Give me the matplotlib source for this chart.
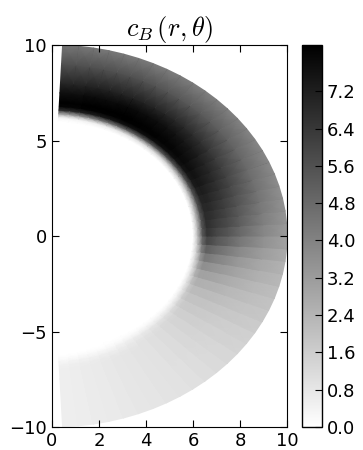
import numpy as np
import matplotlib
matplotlib.use("Agg")
import matplotlib.pyplot as plt

plt.rcParams["mathtext.fontset"] = "cm"
plt.rcParams["font.size"] = 13
plt.rcParams["xtick.direction"] = "in"
plt.rcParams["ytick.direction"] = "in"
plt.rcParams["xtick.top"] = True
plt.rcParams["ytick.right"] = True
plt.rcParams["xtick.major.size"] = 5
plt.rcParams["ytick.major.size"] = 5

## grid: radius of each column, angle (deg) of the cell edges
r_nodes = [6.0, 6.2, 6.4, 6.6, 6.8, 7.0, 7.5, 8.0, 9.0, 10.0]
theta_min, theta_max, n_cells = -87.4, 87.4, 46

## c_B along r for every angular cell, bottom (theta=-85.5) to top (theta=85.5)
c_B = [
    [0.0, 0.0, 0.10, 0.35, 0.50, 0.55, 0.55, 0.55, 0.55, 0.55],
    [0.0, 0.0, 0.15, 0.40, 0.55, 0.60, 0.60, 0.60, 0.60, 0.60],
    [0.0, 0.0, 0.20, 0.45, 0.60, 0.65, 0.65, 0.65, 0.65, 0.65],
    [0.0, 0.05, 0.25, 0.50, 0.65, 0.70, 0.70, 0.70, 0.70, 0.70],
    [0.0, 0.05, 0.30, 0.55, 0.70, 0.75, 0.75, 0.75, 0.75, 0.75],
    [0.0, 0.10, 0.35, 0.60, 0.75, 0.80, 0.80, 0.80, 0.80, 0.80],
    [0.0, 0.15, 0.45, 0.65, 0.80, 0.85, 0.85, 0.85, 0.85, 0.85],
    [0.0, 0.20, 0.55, 0.75, 0.85, 0.90, 0.90, 0.90, 0.90, 0.90],
    [0.0, 0.25, 0.65, 0.85, 0.95, 0.95, 0.95, 0.95, 0.95, 0.95],
    [0.0, 0.30, 0.75, 0.95, 1.05, 1.05, 1.05, 1.05, 1.00, 1.00],
    [0.0, 0.35, 0.85, 1.05, 1.15, 1.15, 1.15, 1.15, 1.10, 1.10],
    [0.0, 0.40, 0.95, 1.20, 1.25, 1.25, 1.25, 1.25, 1.20, 1.20],
    [0.0, 0.45, 1.05, 1.30, 1.40, 1.40, 1.40, 1.35, 1.30, 1.30],
    [0.0, 0.50, 1.20, 1.50, 1.55, 1.55, 1.55, 1.50, 1.45, 1.40],
    [0.0, 0.60, 1.40, 1.70, 1.75, 1.75, 1.70, 1.65, 1.55, 1.50],
    [0.0, 0.70, 1.60, 1.95, 1.95, 1.95, 1.90, 1.85, 1.75, 1.65],
    [0.0, 0.80, 1.80, 2.20, 2.20, 2.20, 2.15, 2.05, 1.90, 1.80],
    [0.0, 0.90, 2.10, 2.55, 2.55, 2.50, 2.45, 2.30, 2.10, 1.95],
    [0.0, 1.00, 2.50, 3.00, 3.00, 2.95, 2.80, 2.60, 2.30, 2.10],
    [0.0, 1.20, 2.90, 3.60, 3.55, 3.45, 3.20, 2.95, 2.55, 2.30],
    [0.0, 1.40, 3.40, 4.30, 4.20, 4.00, 3.70, 3.30, 2.80, 2.45],
    [0.0, 1.70, 4.10, 5.10, 4.90, 4.70, 4.25, 3.80, 3.15, 2.70],
    [0.0, 2.00, 4.80, 5.90, 5.70, 5.40, 4.90, 4.35, 3.55, 3.00],
    [0.0, 2.30, 5.40, 6.50, 6.25, 5.95, 5.45, 4.85, 3.90, 3.25],
    [0.0, 2.30, 5.50, 6.70, 6.50, 6.30, 5.80, 5.20, 4.15, 3.40],
    [0.0, 2.30, 5.50, 6.80, 6.70, 6.50, 6.00, 5.40, 4.30, 3.50],
    [0.0, 2.20, 5.60, 6.90, 6.90, 6.70, 6.20, 5.60, 4.45, 3.60],
    [0.0, 2.10, 5.60, 7.00, 7.05, 6.90, 6.40, 5.80, 4.60, 3.70],
    [0.0, 2.00, 5.60, 7.15, 7.25, 7.10, 6.60, 6.00, 4.70, 3.80],
    [0.0, 1.90, 5.60, 7.30, 7.45, 7.30, 6.80, 6.15, 4.80, 3.85],
    [0.0, 1.80, 5.60, 7.40, 7.60, 7.45, 6.95, 6.30, 4.90, 3.90],
    [0.0, 1.70, 5.60, 7.50, 7.75, 7.60, 7.10, 6.45, 5.00, 3.95],
    [0.0, 1.60, 5.60, 7.60, 7.85, 7.75, 7.30, 6.60, 5.10, 4.00],
    [0.0, 1.50, 5.60, 7.65, 7.95, 7.85, 7.40, 6.70, 5.20, 4.05],
    [0.0, 1.40, 5.50, 7.70, 8.00, 7.95, 7.50, 6.80, 5.30, 4.10],
    [0.0, 1.30, 5.40, 7.70, 8.05, 8.00, 7.60, 6.90, 5.35, 4.10],
    [0.0, 1.20, 5.30, 7.70, 8.10, 8.05, 7.70, 6.95, 5.40, 4.15],
    [0.0, 1.10, 5.20, 7.70, 8.10, 8.10, 7.75, 7.00, 5.45, 4.20],
    [0.0, 1.00, 5.00, 7.60, 8.15, 8.15, 7.80, 7.05, 5.50, 4.20],
    [0.0, 0.90, 4.80, 7.60, 8.15, 8.19, 7.85, 7.10, 5.55, 4.25],
    [0.0, 0.80, 4.60, 7.50, 8.10, 8.19, 7.85, 7.10, 5.60, 4.30],
    [0.0, 0.70, 4.40, 7.40, 8.10, 8.19, 7.80, 7.10, 5.60, 4.30],
    [0.0, 0.60, 4.10, 7.30, 8.10, 8.19, 7.80, 7.10, 5.60, 4.35],
    [0.0, 0.50, 3.80, 7.20, 8.10, 8.19, 7.80, 7.05, 5.60, 4.35],
    [0.0, 0.40, 3.40, 7.00, 8.05, 8.15, 7.70, 7.00, 5.60, 4.40],
    [0.0, 0.30, 3.00, 6.80, 8.00, 8.15, 7.70, 7.00, 5.60, 4.40],
]

cbar_ticks = [0.0, 0.8, 1.6, 2.4, 3.2, 4.0, 4.8, 5.6, 6.4, 7.2]
c_max = 8.19

if __name__ == "__main__":

    r = np.array(r_nodes)
    c = np.array(c_B)
    edges = np.radians(np.linspace(theta_min, theta_max, n_cells + 1))

    ## each angular cell gets its own two edge rows, so the shading
    ## stays flat in theta and smooth in r
    th = np.empty(2 * n_cells)
    th[0::2] = edges[:-1]
    th[1::2] = edges[1:]
    TH, R = np.meshgrid(th, r, indexing="ij")
    C = np.repeat(c, 2, axis=0)
    X = R * np.cos(TH)
    Y = R * np.sin(TH)

    fig = plt.figure(figsize=(3.63, 4.5), dpi=100)
    ax = fig.add_axes([0.143, 0.051, 0.648, 0.849])
    cax = fig.add_axes([0.832, 0.051, 0.055, 0.849])

    mesh = ax.pcolormesh(X, Y, C, shading="gouraud", cmap="gray_r",
                         vmin=0.0, vmax=c_max)

    ax.set_xlim(0, 10)
    ax.set_ylim(-10, 10)
    ax.set_xticks([0, 2, 4, 6, 8, 10])
    ax.set_yticks([-10, -5, 0, 5, 10])
    ax.set_title(r"$c_B\,(r,\theta)$", fontsize=19)

    cb = fig.colorbar(mesh, cax=cax, ticks=cbar_ticks, format="%.1f")
    cb.ax.tick_params(direction="in", length=5)
    cb.outline.set_linewidth(1.0)

    fig.savefig("out.png", dpi=100)
